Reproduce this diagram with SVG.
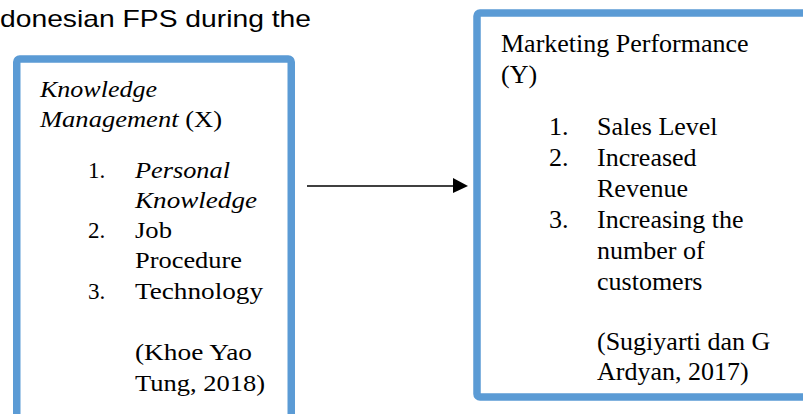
<svg xmlns="http://www.w3.org/2000/svg" width="803" height="414" viewBox="0 0 803 414">
<style>
.box{fill:#ffffff;stroke:#5B9BD5;stroke-width:7.5}
.s{font-family:"Liberation Serif","Times New Roman",serif;fill:#000}
.l{font-size:23px}
.r{font-size:26px}
.i{font-style:italic}
.top{font-family:"Liberation Sans",Arial,sans-serif;font-size:24px;fill:#000}
</style>
<rect width="803" height="414" fill="#ffffff"/>
<text class="top" x="0" y="27" textLength="311" lengthAdjust="spacingAndGlyphs">donesian FPS during the</text>
<g id="node-x">
<rect class="box" x="16.75" y="59" width="274.5" height="380" rx="3"/>
<text class="s l i" x="40" y="97" textLength="117" lengthAdjust="spacingAndGlyphs">Knowledge</text>
<text class="s l" x="40" y="127" textLength="182" lengthAdjust="spacingAndGlyphs"><tspan class="i">Management</tspan> (X)</text>
<text class="s l" x="88" y="178">1.</text>
<text class="s l i" x="135" y="178" textLength="95" lengthAdjust="spacingAndGlyphs">Personal</text>
<text class="s l i" x="135" y="208" textLength="122" lengthAdjust="spacingAndGlyphs">Knowledge</text>
<text class="s l" x="88" y="238">2.</text>
<text class="s l" x="135" y="238" textLength="37" lengthAdjust="spacingAndGlyphs">Job</text>
<text class="s l" x="135" y="268" textLength="107" lengthAdjust="spacingAndGlyphs">Procedure</text>
<text class="s l" x="88" y="299">3.</text>
<text class="s l" x="135" y="299" textLength="128" lengthAdjust="spacingAndGlyphs">Technology</text>
<text class="s l" x="135" y="360" textLength="117" lengthAdjust="spacingAndGlyphs">(Khoe Yao</text>
<text class="s l" x="135" y="391" textLength="130" lengthAdjust="spacingAndGlyphs">Tung, 2018)</text>
</g>
<g id="node-y">
<rect class="box" x="477" y="13" width="360" height="384" rx="3"/>
<text class="s r" x="501" y="52">Marketing Performance</text>
<text class="s r" x="501" y="83">(Y)</text>
<text class="s r" x="549" y="135">1.</text>
<text class="s r" x="597" y="135">Sales Level</text>
<text class="s r" x="549" y="166">2.</text>
<text class="s r" x="597" y="166">Increased</text>
<text class="s r" x="597" y="197">Revenue</text>
<text class="s r" x="549" y="228">3.</text>
<text class="s r" x="597" y="228">Increasing the</text>
<text class="s r" x="597" y="259">number of</text>
<text class="s r" x="597" y="290">customers</text>
<text class="s r" x="597" y="350">(Sugiyarti dan G</text>
<text class="s r" x="597" y="380">Ardyan, 2017)</text>
</g>
<g id="connectors">
<line x1="307" y1="186" x2="454" y2="186" stroke="#000" stroke-width="1.5"/>
<polygon points="453,178 468,186 453,193" fill="#000"/>
</g>
</svg>
